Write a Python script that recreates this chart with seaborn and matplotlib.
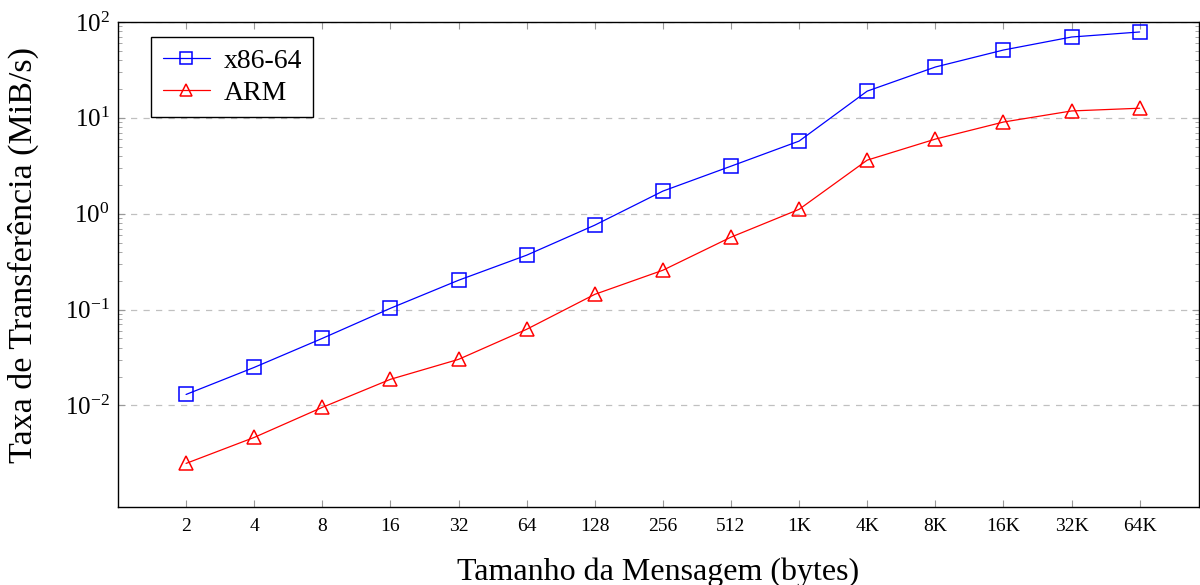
import numpy as np
import pandas as pd
import matplotlib
matplotlib.use("Agg")
import matplotlib.pyplot as plt
import seaborn as sns
from matplotlib.ticker import FixedLocator, NullFormatter, LogFormatterSciNotation

sizes = ["2", "4", "8", "16", "32", "64", "128", "256", "512", "1K", "4K", "8K", "16K", "32K", "64K"]
x86 = [0.0130, 0.0249, 0.050, 0.103, 0.202, 0.369, 0.759, 1.72, 3.13, 5.72, 19.0, 33.9, 51.0, 69.7, 78.7]
arm = [0.00248, 0.00463, 0.00953, 0.0187, 0.0302, 0.0622, 0.144, 0.257, 0.569, 1.11, 3.62, 6.0, 9.04, 11.8, 12.6]
series_names = ["x86-64", "ARM"]
y_major = [1e-2, 1e-1, 1e0, 1e1, 1e2]

sns.set_style("white", {"text.color": "black", "axes.labelcolor": "black",
                        "xtick.color": "black", "ytick.color": "black"})
plt.rcParams["font.family"] = ["Liberation Serif", "DejaVu Serif"]
plt.rcParams["mathtext.fontset"] = "stix"

pos = list(range(len(sizes)))
df = pd.DataFrame({
    "pos": pos * 2,
    "value": x86 + arm,
    "series": [series_names[0]] * len(sizes) + [series_names[1]] * len(sizes),
})

fig = plt.figure(figsize=(12, 5.85), dpi=100)
ax = fig.add_axes([0.0983, 0.1333, 0.9008, 0.8291])

sns.lineplot(data=df, x="pos", y="value", hue="series", style="series",
             palette={"x86-64": "#0000ff", "ARM": "#ff0000"},
             markers={"x86-64": "s", "ARM": "^"}, dashes=False,
             markersize=10, markeredgewidth=1.1,
             linewidth=0.9, ax=ax)
for line in ax.lines:
    line.set_markerfacecolor("none")
    line.set_markeredgecolor(line.get_color())

ax.set_yscale("log")
ax.set_ylim(8.7e-4, 100)
ax.set_xlim(-1, 14.87)
ax.set_xticks(pos)
ax.set_xticklabels(sizes)
ax.yaxis.set_major_locator(FixedLocator(y_major))
ax.yaxis.set_major_formatter(LogFormatterSciNotation())
minors = [m * d for d in y_major[:-1] for m in range(2, 10)]
ax.yaxis.set_minor_locator(FixedLocator(minors))
ax.yaxis.set_minor_formatter(NullFormatter())

ax.grid(axis="y", which="major", color="#c0c0c0", linestyle=(0, (5, 5)), linewidth=0.9)
ax.grid(axis="x", visible=False)
ax.set_axisbelow(True)

for s in ax.spines.values():
    s.set_color("black")
    s.set_linewidth(1.0)

ax.tick_params(axis="x", which="major", direction="in", length=5, color="#999999",
               labelcolor="black", top=True, bottom=True, labelsize=14, pad=8)
ax.tick_params(axis="y", which="both", direction="in", color="#999999",
               labelcolor="black", left=True, right=True, labelsize=18, pad=6)
ax.tick_params(axis="y", which="major", length=5)
ax.tick_params(axis="y", which="minor", length=3)

ax.set_xlabel("Tamanho da Mensagem (bytes)", fontsize=23, color="black")
ax.set_ylabel("Taxa de Transferência (MiB/s)", fontsize=24.5, color="black")
ax.yaxis.set_label_coords(-0.073, 0.52)
ax.xaxis.set_label_coords(0.5, -0.105)

leg = ax.legend(loc="upper left", bbox_to_anchor=(0.031, 0.969), borderaxespad=0,
                fontsize=20, frameon=True, fancybox=False, edgecolor="black",
                framealpha=1, handlelength=1.7, handletextpad=0.5, borderpad=0.4,
                labelspacing=0.25, markerscale=0.8)
leg.get_frame().set_linewidth(1.0)
for t in leg.get_texts():
    t.set_color("black")

fig.savefig("out.png", dpi=100)
